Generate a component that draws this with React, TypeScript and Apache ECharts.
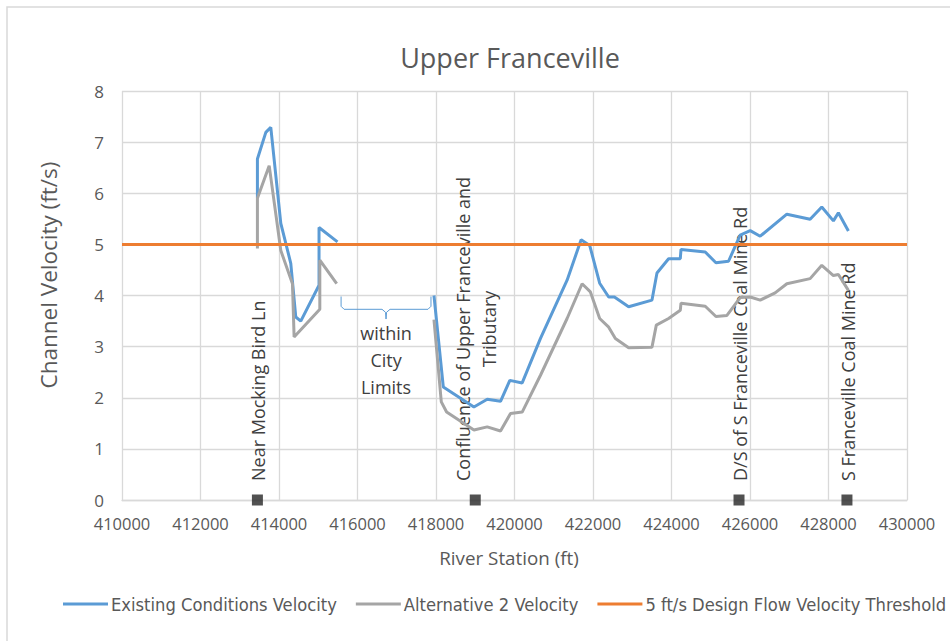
import React, { useEffect, useRef } from "react";
import * as echarts from "echarts";

// ---- Data ----
const existingStations = [
  413450, 413450, 413664, 413791, 414046, 414300, 414427, 414555, 415020, 415020, 415490,
  416700,
  417948, 418186, 418966, 419305, 419644, 419881, 420196, 420662, 421340, 421697, 421916,
  422170, 422400, 422545, 422908, 423503, 423630, 423926, 424224, 424242, 424860, 425132,
  425453, 425750, 426005, 426260, 426939, 427532, 427829, 428125, 428252, 428507,
];
const existingVelocity: (number | null)[] = [
  5.9, 6.67, 7.19, 7.29, 5.41, 4.63, 3.58, 3.5, 4.2, 5.33, 5.05,
  null,
  4.0, 2.21, 1.82, 1.97, 1.93, 2.34, 2.29, 3.16, 4.3, 5.09, 4.98,
  4.24, 3.97, 3.97, 3.78, 3.91, 4.44, 4.72, 4.72, 4.9, 4.85, 4.64,
  4.67, 5.18, 5.27, 5.16, 5.59, 5.49, 5.73, 5.46, 5.62, 5.26,
];

const alt2Stations = [
  413450, 413450, 413750, 414046, 414343, 414385, 415040, 415040, 415470,
  416700,
  417948, 418135, 418270, 418966, 419305, 419644, 419898, 420196, 420662, 421340, 421722,
  421934, 422170, 422400, 422570, 422908, 423503, 423613, 423926, 424224, 424242, 424860,
  425132, 425412, 425750, 426005, 426260, 426640, 426939, 427532, 427829, 428125, 428252,
  428507,
];
const alt2Velocity: (number | null)[] = [
  4.92, 5.9, 6.54, 4.88, 4.23, 3.19, 3.73, 4.69, 4.23,
  null,
  3.53, 1.92, 1.72, 1.37, 1.43, 1.35, 1.69, 1.72, 2.44, 3.55, 4.23,
  4.07, 3.55, 3.38, 3.16, 2.98, 2.99, 3.42, 3.55, 3.71, 3.85, 3.79,
  3.59, 3.61, 3.96, 3.97, 3.91, 4.05, 4.23, 4.33, 4.59, 4.39, 4.41,
  4.1,
];

const thresholdStations = [410000, 430000];
const thresholdVelocity = [5, 5];

const landmarkStations = [413450, 419000, 425720, 428470];
const landmarkLabels = [
  "Near Mocking Bird Ln",
  "Confluence of Upper Franceville and\nTributary",
  "D/S of S Franceville Coal Mine Rd",
  "S Franceville Coal Mine Rd",
];

const cityLimitsStart = 415582;
const cityLimitsEnd = 417872;
const cityLimitsLabel = "within\nCity\nLimits";

const seriesNames = [
  "Existing Conditions Velocity",
  "Alternative 2 Velocity",
  "5 ft/s Design Flow Velocity Threshold",
];

const FONT = "'Open Sans', 'Liberation Sans', sans-serif";
const NARROW = "'Liberation Sans Narrow', 'DejaVu Sans Condensed', sans-serif";
const TXT = "#595959";
const LABEL_SIZE = 18;

function zip(xs: number[], ys: (number | null)[]) {
  return xs.map((x, i) => [x, ys[i]]);
}

function measure(text: string, size: number) {
  const ctx = document.createElement("canvas").getContext("2d");
  if (!ctx) return text.length * size * 0.5;
  ctx.font = `${size}px 'Open Sans'`;
  return Math.max(...text.split("\n").map((t) => ctx.measureText(t).width));
}

export default function App() {
  const ref = useRef<HTMLDivElement>(null);
  useEffect(() => {
    const chart = echarts.init(ref.current!, null, { renderer: "svg" });
    chart.setOption({
      animation: false,
      grid: { left: 122, top: 91, width: 785, height: 409, containLabel: false },
      legend: {
        data: seriesNames,
        left: 63,
        top: 595,
        width: 1200,
        padding: 0,
        itemWidth: 45,
        itemHeight: 3,
        itemGap: 19,
        icon: "rect",
        textStyle: { fontFamily: NARROW, fontSize: 18.2, color: TXT, padding: [0, 0, 0, -2] },
      },
      xAxis: {
        type: "value",
        min: 410000,
        max: 430000,
        interval: 2000,
        axisLine: { show: true, lineStyle: { color: "#d9d9d9", width: 1.3 } },
        axisTick: { show: false },
        splitLine: { show: true, lineStyle: { color: "#d9d9d9", width: 1.3 } },
        axisLabel: {
          margin: 15,
          fontFamily: FONT,
          fontSize: 16.5,
          color: TXT,
          formatter: (v: number) => String(v),
        },
      },
      yAxis: {
        type: "value",
        min: 0,
        max: 8,
        interval: 1,
        axisLine: { show: false },
        axisTick: { show: false },
        splitLine: { show: true, lineStyle: { color: "#d9d9d9", width: 1.3 } },
        axisLabel: { margin: 18, fontFamily: FONT, fontSize: 17, color: TXT },
      },
      series: [
        {
          name: seriesNames[0],
          type: "line",
          data: zip(existingStations, existingVelocity),
          symbol: "none",
          connectNulls: false,
          lineStyle: { color: "#5B9BD5", width: 3 },
          itemStyle: { color: "#5B9BD5" },
        },
        {
          name: seriesNames[1],
          type: "line",
          data: zip(alt2Stations, alt2Velocity),
          symbol: "none",
          connectNulls: false,
          lineStyle: { color: "#A5A5A5", width: 3 },
          itemStyle: { color: "#A5A5A5" },
        },
        {
          name: seriesNames[2],
          type: "line",
          data: zip(thresholdStations, thresholdVelocity),
          symbol: "none",
          lineStyle: { color: "#ED7D31", width: 3 },
          itemStyle: { color: "#ED7D31" },
        },
        {
          name: "Landmarks",
          type: "scatter",
          data: landmarkStations.map((s) => [s, 0]),
          symbol: "rect",
          symbolSize: 11,
          clip: false,
          itemStyle: { color: "#262626" },
          z: 5,
        },
      ],
    });

    const px = (x: number, y: number) => chart.convertToPixel({ gridIndex: 0 }, [x, y]) as number[];

    const graphics: any[] = [
      {
        type: "rect",
        shape: { x: 7, y: 7, width: 1100, height: 1100 },
        style: { fill: "none", stroke: "#d9d9d9", lineWidth: 1.5 },
        z: -10,
        silent: true,
      },
      {
        type: "text",
        x: 510,
        y: 57,
        style: {
          text: "Upper Franceville",
          fontFamily: FONT,
          fontSize: 27,
          fill: TXT,
          align: "center",
          verticalAlign: "middle",
        },
      },
      {
        type: "text",
        x: 48,
        y: 275,
        rotation: Math.PI / 2,
        style: {
          text: "Channel Velocity (ft/s)",
          fontFamily: FONT,
          fontSize: 22.5,
          fill: TXT,
          align: "center",
          verticalAlign: "middle",
        },
      },
      {
        type: "text",
        x: 509,
        y: 558,
        style: {
          text: "River Station (ft)",
          fontFamily: FONT,
          fontSize: 18.8,
          fill: TXT,
          align: "center",
          verticalAlign: "middle",
        },
      },
    ];

    // rotated landmark labels, starting just above the markers
    landmarkStations.forEach((s, i) => {
      const p = px(s, 0);
      const len = measure(landmarkLabels[i], LABEL_SIZE);
      graphics.push({
        type: "text",
        x: p[0] + 1,
        y: p[1] - 19 - len / 2,
        rotation: Math.PI / 2,
        style: {
          text: landmarkLabels[i],
          fontFamily: FONT,
          fontSize: LABEL_SIZE,
          lineHeight: 26,
          fill: "#404040",
          align: "center",
          verticalAlign: "middle",
        },
      });
    });

    // curly brace for city limits
    const l = px(cityLimitsStart, 3.98);
    const r = px(cityLimitsEnd, 3.98);
    const hy = px(cityLimitsStart, 3.73)[1];
    const tipY = px(cityLimitsStart, 3.54)[1];
    const mx = (l[0] + r[0]) / 2;
    graphics.push({
      type: "polyline",
      shape: {
        points: [
          [l[0], l[1]],
          [l[0], hy - 3],
          [l[0] + 3, hy],
          [mx - 4, hy],
          [mx - 0.5, hy + 3],
          [mx, tipY],
          [mx + 0.5, hy + 3],
          [mx + 4, hy],
          [r[0] - 3, hy],
          [r[0], hy - 3],
          [r[0], r[1]],
        ],
      },
      style: { stroke: "#5B9BD5", lineWidth: 1, fill: "none" },
    });
    const c = px((cityLimitsStart + cityLimitsEnd) / 2, 2.73);
    graphics.push({
      type: "text",
      x: c[0],
      y: c[1],
      style: {
        text: cityLimitsLabel,
        fontFamily: FONT,
        fontSize: 18,
        lineHeight: 27,
        fill: "#404040",
        align: "center",
        verticalAlign: "middle",
      },
    });

    chart.setOption({ graphic: graphics });
    return () => chart.dispose();
  }, []);
  return (
    <div
      ref={ref}
      style={{ position: "fixed", left: 0, top: 0, width: 950, height: 641, background: "#fff" }}
    />
  );
}
